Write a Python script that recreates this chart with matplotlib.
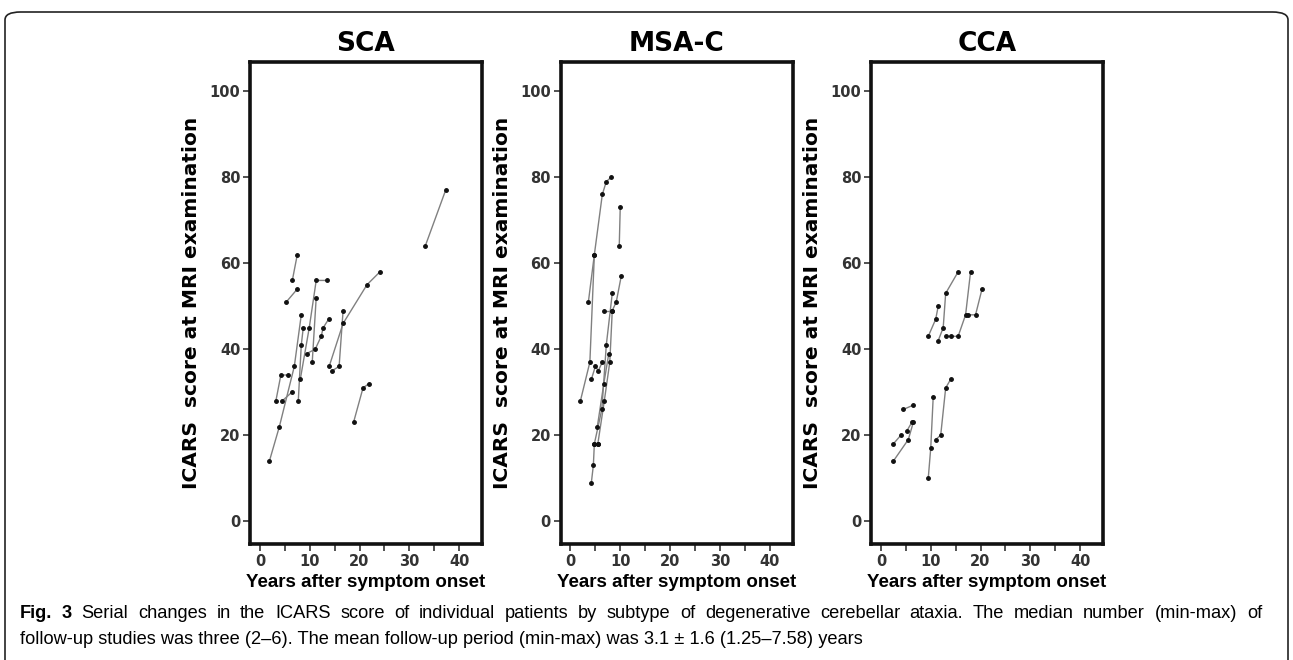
import matplotlib.pyplot as plt
from matplotlib.patches import FancyBboxPatch

# one list of (years, score) points per patient
sca = [
    [(1.9, 14), (3.9, 22), (6.9, 36), (8.3, 48)],
    [(3.2, 28), (4.2, 34), (5.7, 34)],
    [(4.5, 28), (6.4, 30)],
    [(5.3, 51), (7.5, 54)],
    [(6.5, 56), (7.5, 62)],
    [(7.7, 28), (8.3, 41), (8.7, 45)],
    [(8.1, 33), (9.9, 45), (11.3, 56), (13.5, 56)],
    [(9.4, 39), (11.1, 40), (12.3, 43), (12.7, 45), (13.8, 47)],
    [(10.5, 37), (11.3, 52)],
    [(13.9, 36), (16.7, 46), (21.5, 55), (24.1, 58)],
    [(14.5, 35), (15.9, 36), (16.7, 49)],
    [(18.8, 23), (20.7, 31), (21.9, 32)],
    [(33.2, 64), (37.3, 77)],
]

msa_c = [
    [(2.0, 28), (3.9, 37), (4.8, 62), (6.4, 76), (7.2, 79), (8.2, 80)],
    [(3.6, 51), (4.8, 62)],
    [(4.2, 33), (5.0, 36), (5.6, 35), (6.4, 37)],
    [(9.8, 64), (10.0, 73)],
    [(4.2, 9), (4.6, 13), (4.8, 18), (6.3, 26), (7.2, 41), (8.4, 53)],
    [(5.5, 18), (6.8, 28), (7.9, 37), (8.4, 49), (9.2, 51), (10.2, 57)],
    [(5.4, 22), (6.7, 32), (7.7, 39)],
    [(4.8, 18), (5.5, 18)],
    [(6.8, 49), (8.4, 49)],
]

cca = [
    [(2.5, 18), (4.0, 20)],
    [(2.5, 14), (5.5, 19), (6.5, 23)],
    [(4.5, 26), (6.5, 27)],
    [(5.2, 21), (6.2, 23)],
    [(9.5, 10), (10.0, 17), (10.5, 29)],
    [(11.0, 19), (12.0, 20), (13.0, 31), (14.0, 33)],
    [(9.5, 43), (11.0, 47), (11.5, 50)],
    [(11.5, 42), (12.5, 45), (13.0, 53), (15.5, 58)],
    [(13.0, 43), (14.0, 43), (15.5, 43), (17.0, 48), (18.0, 58)],
    [(17.5, 48), (19.0, 48), (20.3, 54)],
]

titles = ["SCA", "MSA-C", "CCA"]
groups = [sca, msa_c, cca]
yticks = [0, 20, 40, 60, 80, 100]
xticks = [0, 10, 20, 30, 40]

caption_1 = ("Serial changes in the ICARS score of individual patients by subtype of degenerative "
             "cerebellar ataxia. The median number (min-max) of")
caption_2 = ("follow-up studies was three (2\u20136). The mean follow-up period (min-max) was "
             "3.1 \u00b1 1.6 (1.25\u20137.58) years")

cap_font = ["Liberation Sans", "DejaVu Sans"]

fig = plt.figure(figsize=(12.93, 6.6), dpi=100)
W, H = 1293, 660

# rounded outer border, bottom edge pushed off the canvas
border = FancyBboxPatch((5 / W, -0.2), 1283 / W, 1.2 - 12 / H,
                        boxstyle="round,pad=0,rounding_size=0.012",
                        transform=fig.transFigure, fill=False,
                        edgecolor="#222222", linewidth=1.2)
fig.patches.append(border)

lefts = [250, 560.5, 871]
for left, title, patients in zip(lefts, titles, groups):
    ax = fig.add_axes([left / W, 1 - 544 / H, 232 / W, 482 / H])
    for pts in patients:
        xs = [p[0] for p in pts]
        ys = [p[1] for p in pts]
        ax.plot(xs, ys, color="#808080", linewidth=1.0, zorder=2)
        ax.plot(xs, ys, "o", color="#111111", markersize=2.5, zorder=3)
    ax.set_xlim(-2, 44.6)
    ax.set_ylim(-5.3, 106.8)
    ax.set_xticks(xticks)
    ax.set_xticks([5, 15, 25, 35], minor=True)
    ax.set_yticks(yticks)
    for s in ax.spines.values():
        s.set_linewidth(2.6)
        s.set_color("#111111")
    ax.tick_params(axis="both", which="both", direction="out", length=5,
                   width=1.2, color="#333333", labelsize=10.5, labelcolor="#333333", pad=2)
    for lab in ax.get_xticklabels() + ax.get_yticklabels():
        lab.set_fontweight("bold")
    ax.set_title(title, fontsize=19, fontweight="bold", pad=8)
    ax.set_ylabel("ICARS  score at MRI examination", fontsize=14.5, fontweight="bold", labelpad=6)
    ax.set_xlabel("Years after symptom onset", fontsize=13.5, fontweight="bold",
                  family=cap_font, labelpad=4)

# caption: last line sets the size, first line is justified to the full width
fig.canvas.draw()
r = fig.canvas.get_renderer()
size = 12.0
t_c2 = fig.text(20 / W, 1 - 640 / H, caption_2, fontsize=size, family=cap_font, va="center")
size = size * 845 / t_c2.get_window_extent(r).width
t_c2.set_fontsize(size)

words = ["Fig.", "3"] + caption_1.split(" ")
texts = []
for i, w in enumerate(words):
    t = fig.text(0, 1 - 613 / H, w, fontsize=size, family=cap_font, va="center",
                 fontweight="bold" if i < 2 else "normal")
    texts.append(t)
widths = [t.get_window_extent(r).width for t in texts]
space = (1242 - sum(widths)) / (len(words) - 1)
x = 20.0
for t, w in zip(texts, widths):
    t.set_x(x / W)
    x += w + space

fig.savefig("out.png", dpi=100)
